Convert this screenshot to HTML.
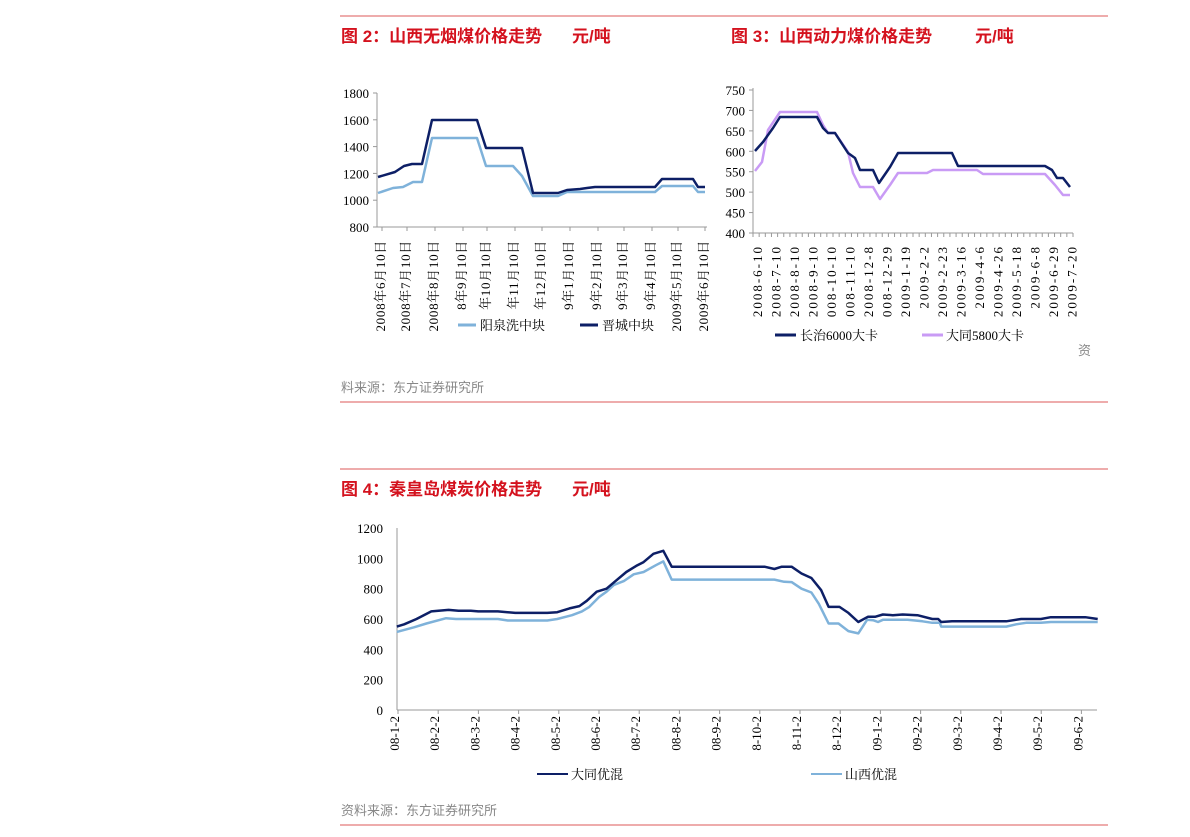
<!DOCTYPE html>
<html><head><meta charset="utf-8">
<style>
body{margin:0;background:#fff;width:1190px;height:837px;overflow:hidden;font-family:"Liberation Serif","Noto Serif CJK SC",serif;}
svg{position:absolute;left:0;top:0}
.t{font-family:"Liberation Sans","Noto Sans CJK SC",sans-serif;font-weight:bold;fill:#d4121e;font-size:17px}
.s{font-family:"Liberation Sans","Noto Sans CJK SC",sans-serif;fill:#888;font-size:13px}
.ax{font-size:13px;fill:#000}
</style></head><body>
<svg id="g" width="1190" height="837" xmlns="http://www.w3.org/2000/svg">
<line x1="340" y1="16" x2="1108" y2="16" stroke="#e89090" stroke-width="1.5"/>
<line x1="340" y1="402" x2="1108" y2="402" stroke="#e89090" stroke-width="1.5"/>
<line x1="340" y1="469" x2="1108" y2="469" stroke="#e89090" stroke-width="1.5"/>
<line x1="340" y1="825" x2="1108" y2="825" stroke="#e89090" stroke-width="1.5"/>
<text class="t" x="341" y="42">图 2：山西无烟煤价格走势</text><text class="t" x="572" y="42">元/吨</text>
<text class="t" x="731" y="42">图 3：山西动力煤价格走势</text><text class="t" x="975" y="42">元/吨</text>
<text class="t" x="341" y="495">图 4：秦皇岛煤炭价格走势</text><text class="t" x="572" y="495">元/吨</text>
<text class="s" x="341" y="392">料来源：东方证券研究所</text>
<text class="s" x="341" y="815">资料来源：东方证券研究所</text>
<text class="s" x="1078" y="355">资</text>
</svg>
<script>
var S=document.getElementById('g'),NS='http://www.w3.org/2000/svg';
function el(n,a,txt){var e=document.createElementNS(NS,n);for(var k in a)e.setAttribute(k,a[k]);if(txt!=null)e.textContent=txt;S.appendChild(e);return e;}
function poly(pts,c,w){el('polyline',{points:pts.map(p=>p.join(',')).join(' '),fill:'none',stroke:c,'stroke-width':w||2.5,'stroke-linejoin':'round'});}
// Chart 2
(function(){var x0=377,x1=707,yv=v=>227-(v-800)*134/1000;
el('line',{x1:x0,y1:93,x2:x0,y2:227,stroke:'#999'});el('line',{x1:x0,y1:227,x2:x1,y2:227,stroke:'#999'});
for(var v=800;v<=1800;v+=200){el('text',{x:369,y:yv(v)+5,'text-anchor':'end',class:'ax','font-size':'12'},v);el('line',{x1:x0-4,y1:yv(v),x2:x0,y2:yv(v),stroke:'#999'});}
var lx=[380,405,433,461,485,513,540,568,596,622,650,676,703],
lb=['2008年6月10日','2008年7月10日','2008年8月10日','8年9月10日','年10月10日','年11月10日','年12月10日','9年1月10日','9年2月10日','9年3月10日','9年4月10日','2009年5月10日','2009年6月10日'];
lx.forEach((x,i)=>{el('line',{x1:x+2,y1:227,x2:x+2,y2:231,stroke:'#999'});el('text',{transform:'translate('+(x+5)+',240) rotate(-90)','text-anchor':'end',class:'ax','font-size':'11','letter-spacing':'0.7'},lb[i]);});
poly([[378,193],[393,188],[403,187],[413,182],[422,182],[432,138],[477,138],[486,166],[513,166],[522,176],[533,196],[558,196],[567,192],[655,192],[662,186],[693,186],[698,192],[705,192]],'#7fb2da');
poly([[378,177],[395,172],[404,166],[412,164],[422,164],[432,120],[477,120],[486,148],[522,148],[533,193],[558,193],[567,190],[580,189],[587,188],[595,187],[655,187],[662,179],[693,179],[698,187],[705,187]],'#0d1f66');
el('rect',{x:455,y:316,width:200,height:18,fill:'#fff'});
el('line',{x1:458,y1:325,x2:476,y2:325,stroke:'#7fb2da','stroke-width':3});el('text',{x:480,y:330,class:'ax'},'阳泉洗中块');
el('line',{x1:580,y1:325,x2:598,y2:325,stroke:'#0d1f66','stroke-width':3});el('text',{x:602,y:330,class:'ax'},'晋城中块');
})();
// Chart 3
(function(){var x0=753,x1=1073,yv=v=>233-(v-400)*143/350;
el('line',{x1:x0,y1:88,x2:x0,y2:233,stroke:'#999'});el('line',{x1:x0,y1:233,x2:x1,y2:233,stroke:'#999'});
for(var v=400;v<=750;v+=50){el('text',{x:745,y:yv(v)+5,'text-anchor':'end',class:'ax'},v);el('line',{x1:x0-4,y1:yv(v),x2:x0,y2:yv(v),stroke:'#999'});}
for(var i=0;i<=52;i++){var x=x0+i*(x1-x0)/52;el('line',{x1:x,y1:233,x2:x,y2:237,stroke:'#999'});}
var lb=['2008-6-10','2008-7-10','2008-8-10','2008-9-10','008-10-10','008-11-10','2008-12-8','008-12-29','2009-1-19','2009-2-2','2009-2-23','2009-3-16','2009-4-6','2009-4-26','2009-5-18','2009-6-8','2009-6-29','2009-7-20'];
lb.forEach((t,i)=>{var x=762+i*18.5;el('text',{transform:'translate('+x+',245) rotate(-90)','text-anchor':'end',class:'ax','font-size':'13','letter-spacing':'2'},t);});
poly([[755,171],[762,162],[768,130],[780,112],[817,112],[823,125],[828,133],[835,133],[848,152],[853,173],[860,187],[873,187],[880,199],[890,185],[898,173],[927,173],[933,170],[977,170],[983,174],[1045,174],[1055,185],[1063,195],[1070,195]],'#c99bf5');
poly([[755,151],[763,142],[773,128],[780,117],[817,117],[823,128],[828,133],[835,133],[848,153],[855,158],[860,170],[873,170],[879,183],[890,167],[898,153],[952,153],[958,166],[1045,166],[1052,170],[1057,178],[1063,178],[1070,187]],'#0d1f66');
el('line',{x1:775,y1:335,x2:796,y2:335,stroke:'#0d1f66','stroke-width':3});el('text',{x:800,y:340,class:'ax'},'长治6000大卡');
el('line',{x1:922,y1:335,x2:943,y2:335,stroke:'#c99bf5','stroke-width':3});el('text',{x:946,y:340,class:'ax'},'大同5800大卡');
})();
// Chart 4
(function(){var x0=397,x1=1097,yv=v=>710-v*182/1200,X=z=>340+z/2.026;
el('line',{x1:x0,y1:528,x2:x0,y2:710,stroke:'#999'});el('line',{x1:x0,y1:710,x2:x1,y2:710,stroke:'#999'});
for(var v=0;v<=1200;v+=200)el('text',{x:383,y:yv(v)+5,'text-anchor':'end',class:'ax'},v);
var lb=['08-1-2','08-2-2','08-3-2','08-4-2','08-5-2','08-6-2','08-7-2','08-8-2','08-9-2','8-10-2','8-11-2','8-12-2','09-1-2','09-2-2','09-3-2','09-4-2','09-5-2','09-6-2'];
lb.forEach((t,i)=>{var x=394+i*40.2;el('line',{x1:x+4,y1:710,x2:x+4,y2:714,stroke:'#999'});el('text',{transform:'translate('+(x+5)+',716) rotate(-90)','text-anchor':'end',class:'ax'},t);});
var L=[[115,515],[150,545],[175,570],[215,605],[235,600],[320,600],[340,590],[420,590],[440,600],[470,625],[490,650],[505,680],[525,745],[540,780],[555,825],[575,850],[595,895],[615,910],[640,955],[655,980],[672,860],[880,860],[900,845],[915,843],[935,800],[955,775],[970,700],[990,570],[1010,570],[1030,520],[1050,505],[1068,595],[1080,592],[1090,580],[1100,595],[1150,595],[1180,585],[1200,575],[1215,575],[1218,550],[1350,550],[1370,565],[1390,575],[1420,575],[1440,580],[1535,580]];
var D=[[115,550],[130,565],[155,600],[185,650],[220,660],[240,655],[265,655],[280,650],[320,650],[355,640],[420,640],[440,645],[465,670],[485,685],[500,720],[520,780],[540,800],[560,855],[580,910],[600,950],[615,975],[635,1030],[655,1050],[672,945],[860,945],[880,930],[895,945],[915,945],[935,900],[955,870],[975,790],[990,680],[1012,680],[1030,640],[1050,580],[1070,615],[1085,615],[1100,630],[1120,625],[1140,630],[1170,625],[1200,600],[1212,600],[1218,580],[1240,585],[1350,585],[1380,600],[1420,600],[1440,612],[1510,612],[1535,600]];
poly(L.map(p=>[X(p[0]).toFixed(1),yv(p[1]).toFixed(1)]),'#7fb2da');
poly(D.map(p=>[X(p[0]).toFixed(1),yv(p[1]).toFixed(1)]),'#0d1f66');
el('line',{x1:537,y1:774,x2:568,y2:774,stroke:'#0d1f66','stroke-width':2});el('text',{x:571,y:779,class:'ax'},'大同优混');
el('line',{x1:811,y1:774,x2:842,y2:774,stroke:'#7fb2da','stroke-width':2});el('text',{x:845,y:779,class:'ax'},'山西优混');
})();
</script>
</body></html>
